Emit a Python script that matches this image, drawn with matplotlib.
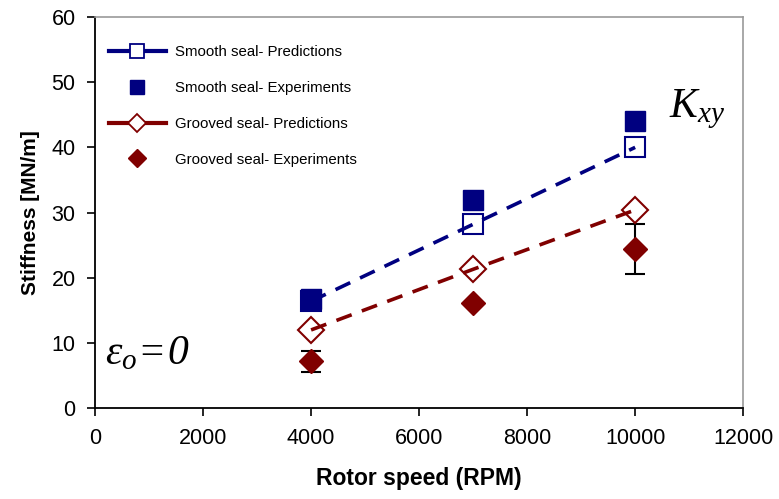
import numpy as np
import matplotlib.pyplot as plt
from matplotlib.lines import Line2D

plt.rcParams['font.family'] = ['Liberation Sans', 'DejaVu Sans']
plt.rcParams['mathtext.fontset'] = 'custom'
plt.rcParams['mathtext.rm'] = 'Liberation Serif:italic'
plt.rcParams['mathtext.it'] = 'Liberation Serif:italic'

# data
speed = [4000, 7000, 10000]
smooth_pred = [16.4, 28.2, 40.0]
smooth_exp = [16.8, 31.9, 44.0]
grooved_pred = [12.0, 21.3, 30.4]
grooved_exp = [7.2, 16.1, 24.4]
grooved_err_lo = [1.6, 0.0, 3.8]
grooved_err_hi = [1.6, 0.0, 3.8]

navy = '#000080'
maroon = '#800000'
dash = (0, (4.5, 3))

fig = plt.figure(figsize=(7.79, 4.99), dpi=100)
ax = fig.add_axes([0.122, 0.182, 0.832, 0.784])

ax.plot(speed, smooth_pred, color=navy, lw=2.6, linestyle=dash, marker='s', ms=14,
        mfc='none', mec=navy, mew=1.5, zorder=3)
ax.plot(speed, smooth_exp, linestyle='none', marker='s', ms=14.5, color=navy, zorder=2)
ax.plot(speed, grooved_pred, color=maroon, lw=2.6, linestyle=dash, marker='D', ms=13.5,
        mfc='none', mec=maroon, mew=1.5, zorder=3)
ax.errorbar(speed, grooved_exp, yerr=[grooved_err_lo, grooved_err_hi], fmt='none',
            ecolor='black', elinewidth=1.5, capsize=7, capthick=1.5, zorder=2)
ax.plot(speed, grooved_exp, linestyle='none', marker='D', ms=12.5, color=maroon, zorder=4)

ax.set_xlim(0, 12000)
ax.set_ylim(0, 60)
ax.set_xticks(np.arange(0, 12001, 2000))
ax.set_yticks(np.arange(0, 61, 10))
ax.tick_params(direction='out', length=6, width=1.2, labelsize=15.5, pad=8)
for s in ['left', 'bottom']:
    ax.spines[s].set_linewidth(1.3)
for s in ['top', 'right']:
    ax.spines[s].set_color('#999999')
    ax.spines[s].set_linewidth(1.2)

ax.set_xlabel('Rotor speed (RPM)', fontsize=16.5, fontweight='bold', labelpad=13)
ax.set_ylabel('Stiffness [MN/m]', fontsize=15, fontweight='bold', labelpad=8)

ax.text(0.885, 0.765, r'$K_{xy}$', transform=ax.transAxes, fontsize=30, ha='left', va='center')
ax.text(0.015, 0.14, r'$\varepsilon_o\!=\!0$', transform=ax.transAxes, fontsize=30,
        ha='left', va='center')

handles = [
    Line2D([], [], color=navy, lw=3, marker='s', ms=10, mfc='white', mec=navy, mew=1.3),
    Line2D([], [], color=navy, lw=0, marker='s', ms=10),
    Line2D([], [], color=maroon, lw=3, marker='D', ms=9.5, mfc='white', mec=maroon, mew=1.3),
    Line2D([], [], color=maroon, lw=0, marker='D', ms=9.5),
]
labels = ['Smooth seal- Predictions', 'Smooth seal- Experiments',
          'Grooved seal- Predictions', 'Grooved seal- Experiments']
ax.legend(handles, labels, loc='upper left', bbox_to_anchor=(0.0, 0.962), frameon=False,
          fontsize=10.8, handlelength=3.8, labelspacing=1.45, handletextpad=0.6)

fig.savefig('out.png', dpi=100)
